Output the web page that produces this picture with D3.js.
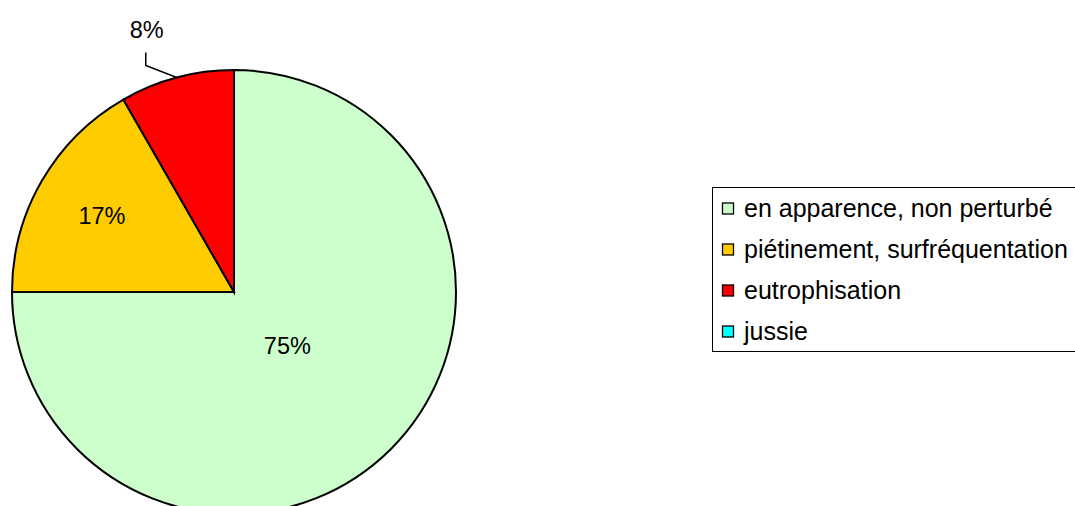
<!DOCTYPE html>
<html><head><meta charset="utf-8">
<script src="https://cdn.jsdelivr.net/npm/d3@7"></script>
<style>body{margin:0;background:#fff;overflow:hidden}svg{display:block}</style>
</head><body><svg id="c" width="1075" height="506"></svg>
<script>
const categories = ["en apparence, non perturbé", "piétinement, surfréquentation", "eutrophisation", "jussie"];
const values = [75, 16.7, 8.3, 0];
const colors = ["#CCFFCC", "#FFCC00", "#FF0000", "#00FFFF"];
const labelRadius = [0.34, 0.687, null, null];

const svg = d3.select("#c");
const font = "Liberation Sans, Arial, sans-serif";
const cx = 234, cy = 292, R = 222;
const total = d3.sum(values);
const pie = d3.pie().sort(null).value(d => d)(values);
const arc = d3.arc().innerRadius(0).outerRadius(R);
const g = svg.append("g").attr("transform", `translate(${cx},${cy})`);
g.selectAll("path").data(pie.filter(d => d.value > 0)).join("path")
  .attr("d", arc).attr("fill", d => colors[d.index])
  .attr("stroke", "#000").attr("stroke-width", 2).attr("stroke-linejoin", "miter");

const fmt = v => Math.round(v / total * 100) + "%";
pie.forEach((d, i) => {
  if (d.value <= 0) return;
  const mid = (d.startAngle + d.endAngle) / 2;
  if (labelRadius[i] != null) {
    const r = R * labelRadius[i];
    g.append("text").attr("x", r * Math.sin(mid)).attr("y", -r * Math.cos(mid))
      .attr("text-anchor", "middle").attr("dy", "0.35em")
      .attr("font-family", font).attr("font-size", 23.5).attr("fill", "#000").text(fmt(d.value));
  } else {
    const p0 = [R * Math.sin(mid), -R * Math.cos(mid)];
    const p1 = [p0[0] - 31, p0[1] - 12];
    const p2 = [p1[0], p1[1] - 13];
    g.append("path").attr("d", d3.line()([p0, p1, p2])).attr("fill", "none").attr("stroke", "#000").attr("stroke-width", 1.5);
    g.append("text").attr("x", p2[0] + 1).attr("y", p2[1] - 23).attr("text-anchor", "middle").attr("dy", "0.35em")
      .attr("font-family", font).attr("font-size", 23.5).attr("fill", "#000").text(fmt(d.value));
  }
});

// legend
const lx = 712.5, ly = 187.5, lh = 164, rowH = 41;
svg.append("rect").attr("x", lx).attr("y", ly).attr("width", 400).attr("height", lh)
  .attr("fill", "#fff").attr("stroke", "#000").attr("stroke-width", 1);
categories.forEach((c, i) => {
  const yc = 208.5 + i * rowH;
  svg.append("rect").attr("x", 722.5).attr("y", yc - 5.5).attr("width", 11).attr("height", 11)
    .attr("fill", colors[i]).attr("stroke", "#000").attr("stroke-width", 1.3);
  svg.append("text").attr("x", 744).attr("y", yc).attr("dy", "0.35em")
    .attr("font-family", font).attr("font-size", 25).attr("fill", "#000").text(c);
});
</script></body></html>
